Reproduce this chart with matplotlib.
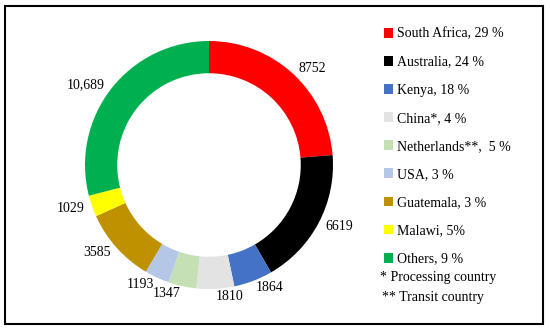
import matplotlib.pyplot as plt
from matplotlib.patches import Rectangle

countries = ["South Africa, 29 %", "Australia, 24 %", "Kenya, 18 %", "China*, 4 %",
             "Netherlands**,  5 %", "USA, 3 %", "Guatemala, 3 %", "Malawi, 5%", "Others, 9 %"]
values = [8752, 6619, 1864, 1810, 1347, 1193, 3585, 1029, 10689]
value_labels = ["8752", "6619", "1864", "1810", "1347", "1193", "3585", "1029", "10,689"]
colors = ["#ff0000", "#000000", "#4472c4", "#e3e3e3", "#c5e0b4",
          "#b4c7e7", "#bf9000", "#ffff00", "#00b050"]
notes = ["* Processing country", "** Transit country"]

plt.rcParams["font.family"] = ["Liberation Serif", "DejaVu Serif"]

W, H = 550, 330
fig = plt.figure(figsize=(W / 100, H / 100), dpi=100)
cx, cy, r = 209, 165, 124
ax = fig.add_axes([(cx - r) / W, (H - cy - r) / H, 2 * r / W, 2 * r / H])

wedges, texts = ax.pie(values, colors=colors, startangle=90, counterclock=False,
                       labels=value_labels, labeldistance=1.06,
                       wedgeprops=dict(width=0.26, edgecolor="none"),
                       textprops=dict(fontsize=10))
ax.set_xlim(-1, 1)
ax.set_ylim(-1, 1)
ax.set_aspect("equal")
ax.axis("off")

leg = fig.legend(wedges, countries, loc="upper left", bbox_to_anchor=(371 / W, 1 - 15 / H),
                 frameon=False, fontsize=10, handlelength=0.7, handleheight=0.7,
                 handletextpad=0.3, labelspacing=1.09)

fig.text(380 / W, 1 - 278 / H, notes[0], fontsize=10, va="center")
fig.text(382 / W, 1 - 297 / H, notes[1], fontsize=10, va="center")

fig.patches.append(Rectangle((5 / W, 6 / H), 538 / W, 318 / H, transform=fig.transFigure,
                             fill=False, edgecolor="black", linewidth=1.5))

fig.savefig("out.png", dpi=100)
